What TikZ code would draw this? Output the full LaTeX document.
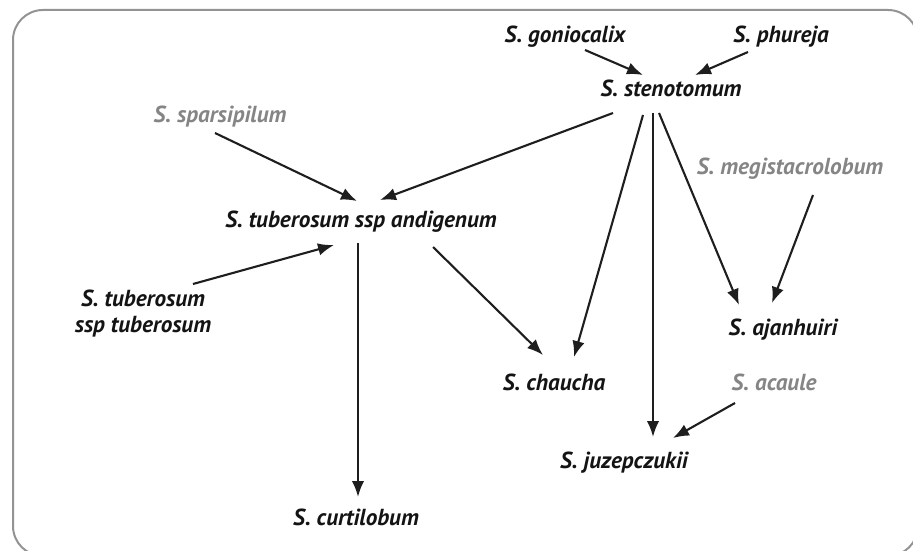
\documentclass[tikz,border=0pt]{standalone}
\usepackage{fontspec}
\setmainfont{PT Sans}
\usepackage{tikz}
\usetikzlibrary{arrows.meta,positioning}

\definecolor{lineg}{HTML}{1E1E1E}
\definecolor{wildg}{HTML}{858585}

\begin{document}
\begin{tikzpicture}[x=0.5pt,y=-0.5pt,
    sp/.style={font=\fontsize{11.6}{13}\selectfont\bfseries\itshape, text=black!92, inner sep=1pt, align=center},
    wild/.style={sp, text=wildg},
    arr/.style={-{Latex[length=8pt,width=6.2pt]}, line width=1.05pt, draw=lineg}]
    \useasboundingbox (0,0) rectangle (913,550);
    % frame
    \draw[line width=1pt, gray!85, rounded corners=15pt] (13,10) rectangle (918,556);

    % cultivated and wild species
    \node[sp] (goni) at (565,37) {S. goniocalix};
    \node[sp] (phur) at (781,37) {S. phureja};
    \node[sp] (sten) at (671,88) {S. stenotomum};
    \node[wild] (spar) at (220,117) {S. sparsipilum};
    \node[wild] (megi) at (790,169) {S. megistacrolobum};
    \node[sp] (andi) at (361,222) {S. tuberosum ssp andigenum};
    \node[sp] (tube) at (143,314) {S. tuberosum\\ssp tuberosum};
    \node[sp] (ajan) at (783,330) {S. ajanhuiri};
    \node[sp] (chau) at (554,382) {S. chaucha};
    \node[wild] (acau) at (774,382) {S. acaule};
    \node[sp] (juze) at (624,463) {S. juzepczukii};
    \node[sp] (curt) at (356,517) {S. curtilobum};

    % crosses
    \draw[arr] ([shift={(20,13)}]goni.center) -- ([shift={(-28,-13)}]sten.center);
    \draw[arr] ([shift={(-33,15)}]phur.center) -- ([shift={(24,-13)}]sten.center);
    \draw[arr] ([shift={(-58,25)}]sten.center) -- ([shift={(19,-22)}]andi.center);
    \draw[arr] ([shift={(-5,16)}]spar.center) -- ([shift={(-4,-21)}]andi.center);
    \draw[arr] ([shift={(-28,27)}]sten.center) -- ([shift={(20,-25)}]chau.center);
    \draw[arr] ([shift={(-18,25)}]sten.center) -- ([shift={(29,-26)}]juze.center);
    \draw[arr] ([shift={(-12,25)}]sten.center) -- ([shift={(-44,-25)}]ajan.center);
    \draw[arr] ([shift={(23,26)}]megi.center) -- ([shift={(-11,-27)}]ajan.center);
    \draw[arr] ([shift={(-3,21)}]andi.center) -- ([shift={(2,-20)}]curt.center);
    \draw[arr] ([shift={(72,25)}]andi.center) -- ([shift={(-11,-27)}]chau.center);
    \draw[arr] ([shift={(50,-30)}]tube.center) -- ([shift={(-27,23)}]andi.center);
    \draw[arr] ([shift={(-39,21)}]acau.center) -- ([shift={(49,-25)}]juze.center);
\end{tikzpicture}
\end{document}
